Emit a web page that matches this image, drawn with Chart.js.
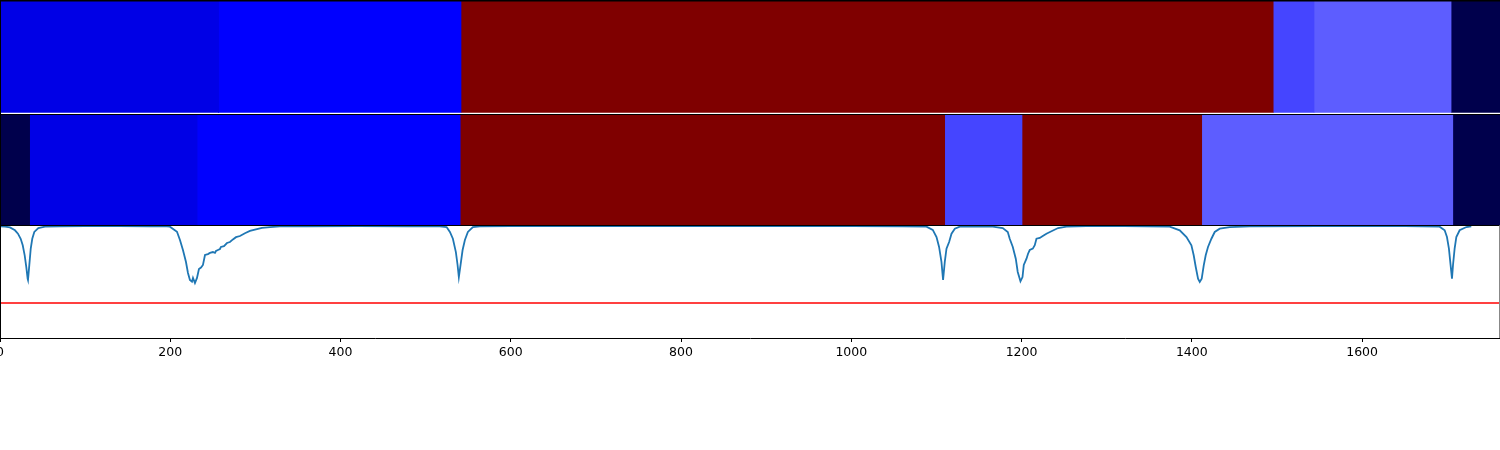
<!DOCTYPE html>
<html>
<head>
<meta charset="utf-8">
<script src="https://cdn.jsdelivr.net/npm/chart.js@4.4.1/dist/chart.umd.min.js"></script>
<style>
  html, body { margin: 0; padding: 0; background: #fff; }
  #wrap { width: 1500px; height: 450px; position: relative; }
</style>
</head>
<body>
<div id="wrap"><canvas id="c"></canvas></div>
<script>
// ---- data ----
const xMax = 1762;
const xTicks = [0, 200, 400, 600, 800, 1000, 1200, 1400, 1600];

// top band (segment edges along x, one colour per segment)
const band1Edges  = [0, 256, 541, 1495, 1543, 1704, 1762];
const band1Colors = ['#0000e6', '#0000ff', '#7f0000', '#4545ff', '#5d5dff', '#00004c'];

// second band
const band2Edges  = [0, 34, 231, 540, 1109, 1200, 1411, 1706, 1762];
const band2Colors = ['#00004c', '#0000e6', '#0000ff', '#7f0000', '#4545ff', '#7f0000', '#5d5dff', '#00004c'];

// spectrum trace [x, y] (y in the lower panel's 0..1 units)
const spectrum = [
  [0,0.99],[6,0.988],[11.7,0.982],[17.6,0.956],[21.1,0.926],[24.3,0.881],[26.7,0.823],[29,0.734],
  [30.9,0.630],[32.5,0.526],[32.9,0.515],[34.4,0.645],[36.1,0.793],[37.9,0.881],[40.3,0.941],[45,0.976],
  [52.8,0.988],[70,0.992],[100,0.993],[140,0.993],[176,0.99],[196,0.99],
  [199.6,0.988],[207.9,0.943],[211.4,0.87],[214.9,0.781],[218.4,0.677],[220.8,0.577],[223.1,0.515],
  [225.5,0.50],[226.7,0.533],[229,0.488],[231.4,0.533],[233.7,0.612],[236.1,0.625],[238.4,0.648],
  [240.8,0.737],[244.3,0.745],[246.6,0.755],[250.1,0.763],[252.5,0.755],[253.7,0.772],[256,0.781],
  [258.4,0.79],[259.5,0.808],[263.1,0.815],[266.6,0.843],[270.1,0.852],[273.6,0.875],[277.2,0.895],
  [281.9,0.905],[287.7,0.93],[293.6,0.95],[300.6,0.965],[307.7,0.977],[317.1,0.985],[328.8,0.99],
  [360,0.992],[420,0.993],[480,0.992],
  [516.7,0.99],[524.6,0.985],[528.5,0.941],[532,0.881],[535.5,0.763],[537.5,0.648],[539,0.541],
  [541,0.648],[543.4,0.781],[546.1,0.87],[549.6,0.941],[555.5,0.985],[563.7,0.99],
  [600,0.993],[700,0.994],[800,0.994],[900,0.993],[1000,0.993],[1060,0.99],
  [1088.3,0.988],[1095.7,0.959],[1100.1,0.896],[1103.1,0.808],[1105.9,0.675],[1107.8,0.515],
  [1109.8,0.675],[1111.8,0.793],[1114.9,0.852],[1117.7,0.926],[1121.6,0.97],[1127.4,0.988],[1145,0.99],
  [1166.2,0.988],[1177.9,0.976],[1183.8,0.941],[1186.1,0.881],[1189.7,0.808],[1193.2,0.704],
  [1195.5,0.586],[1198.7,0.503],[1201.1,0.541],[1202.6,0.648],[1205.8,0.704],[1207.6,0.748],
  [1209.6,0.781],[1213.2,0.793],[1215.5,0.823],[1217.5,0.881],[1221.4,0.888],[1224.9,0.905],
  [1229.2,0.926],[1235.1,0.947],[1242.9,0.976],[1252.7,0.988],[1276.2,0.994],[1320,0.994],
  [1374,0.988],[1385.8,0.956],[1393.7,0.896],[1399.5,0.823],[1402.2,0.734],[1404.6,0.630],
  [1407.3,0.526],[1409.3,0.497],[1411.6,0.526],[1414,0.645],[1416.3,0.734],[1419,0.808],
  [1423,0.881],[1426.9,0.941],[1432.8,0.97],[1444.5,0.985],[1468,0.991],[1550,0.994],[1650,0.993],
  [1691.1,0.988],[1697,0.956],[1699.7,0.896],[1702,0.793],[1704,0.645],[1705.6,0.526],
  [1706.8,0.648],[1708.7,0.793],[1710.7,0.896],[1714.6,0.956],[1722.5,0.985],[1728.3,0.991]
];

// horizontal threshold line
const thresholdLevel = 0.31;

// ---- panel layout (value ranges on the shared y scale) ----
const band1Range = [2.0, 3.0];
const band2Range = [1.0, 1.985];
const seamOverlap = 1.2; // x units each segment extends under its neighbour

function bandDatasets(edges, colors, range) {
  const out = [];
  for (let i = 0; i < colors.length; i++) {
    const last = i === colors.length - 1;
    out.push({
      type: 'line',
      data: [{x: edges[i], y: range[1]}, {x: last ? edges[i + 1] : edges[i + 1] + seamOverlap, y: range[1]}],
      fill: {value: range[0]},
      backgroundColor: colors[i],
      borderWidth: 0,
      pointRadius: 0,
      order: 10 + i
    });
  }
  return out;
}

const datasets = [
  ...bandDatasets(band1Edges, band1Colors, band1Range),
  ...bandDatasets(band2Edges, band2Colors, band2Range),
  {
    type: 'line',
    data: spectrum.map(p => ({x: p[0], y: p[1]})),
    borderColor: '#1f77b4',
    borderWidth: 1.8,
    pointRadius: 0,
    fill: false,
    tension: 0,
    order: 1
  },
  {
    type: 'line',
    data: [{x: 0, y: thresholdLevel}, {x: xMax, y: thresholdLevel}],
    borderColor: '#ff0000',
    borderWidth: 1.6,
    pointRadius: 0,
    fill: false,
    order: 2
  }
];

const spines = {
  id: 'spines',
  afterDatasetsDraw(chart) {
    const {ctx, scales: {x, y}} = chart;
    ctx.save();
    ctx.strokeStyle = '#000';
    const hl = (v, w) => {
      const py = Math.round(y.getPixelForValue(v)) + 0.5;
      ctx.lineWidth = w;
      ctx.beginPath(); ctx.moveTo(x.left, py); ctx.lineTo(x.right, py); ctx.stroke();
    };
    hl(3, 2);
    hl(1.99, 1);
    hl(1.0, 1.2);
    const lx = x.getPixelForValue(0) + 0.5;
    ctx.lineWidth = 1;
    ctx.beginPath(); ctx.moveTo(lx, y.getPixelForValue(3)); ctx.lineTo(lx, y.getPixelForValue(0)); ctx.stroke();
    const rx = x.getPixelForValue(xMax) - 0.5;
    ctx.strokeStyle = '#888';
    ctx.beginPath(); ctx.moveTo(rx, y.getPixelForValue(1)); ctx.lineTo(rx, y.getPixelForValue(0)); ctx.stroke();
    ctx.restore();
  }
};

new Chart(document.getElementById('c'), {
  data: {datasets},
  options: {
    responsive: true,
    maintainAspectRatio: false,
    animation: false,
    events: [],
    layout: {padding: 0, autoPadding: false},
    plugins: {legend: {display: false}, tooltip: {enabled: false}},
    scales: {
      x: {
        type: 'linear',
        min: 0,
        max: xMax,
        afterFit(scale) { scale.height = 112; scale.paddingLeft = 0; scale.paddingRight = 0; },
        afterBuildTicks(scale) { scale.ticks = xTicks.map(v => ({value: v})); },
        ticks: {
          includeBounds: false,
          autoSkip: false,
          maxRotation: 0,
          padding: 3,
          color: '#000',
          font: {family: 'DejaVu Sans', size: 12.5},
          callback: v => String(v)
        },
        grid: {display: true, drawOnChartArea: false, drawTicks: true, tickLength: 4, color: '#000', lineWidth: 1},
        border: {display: true, color: '#000', width: 1}
      },
      y: {
        type: 'linear',
        min: 0,
        max: 3,
        display: false
      }
    }
  },
  plugins: [spines]
});
</script>
</body>
</html>
